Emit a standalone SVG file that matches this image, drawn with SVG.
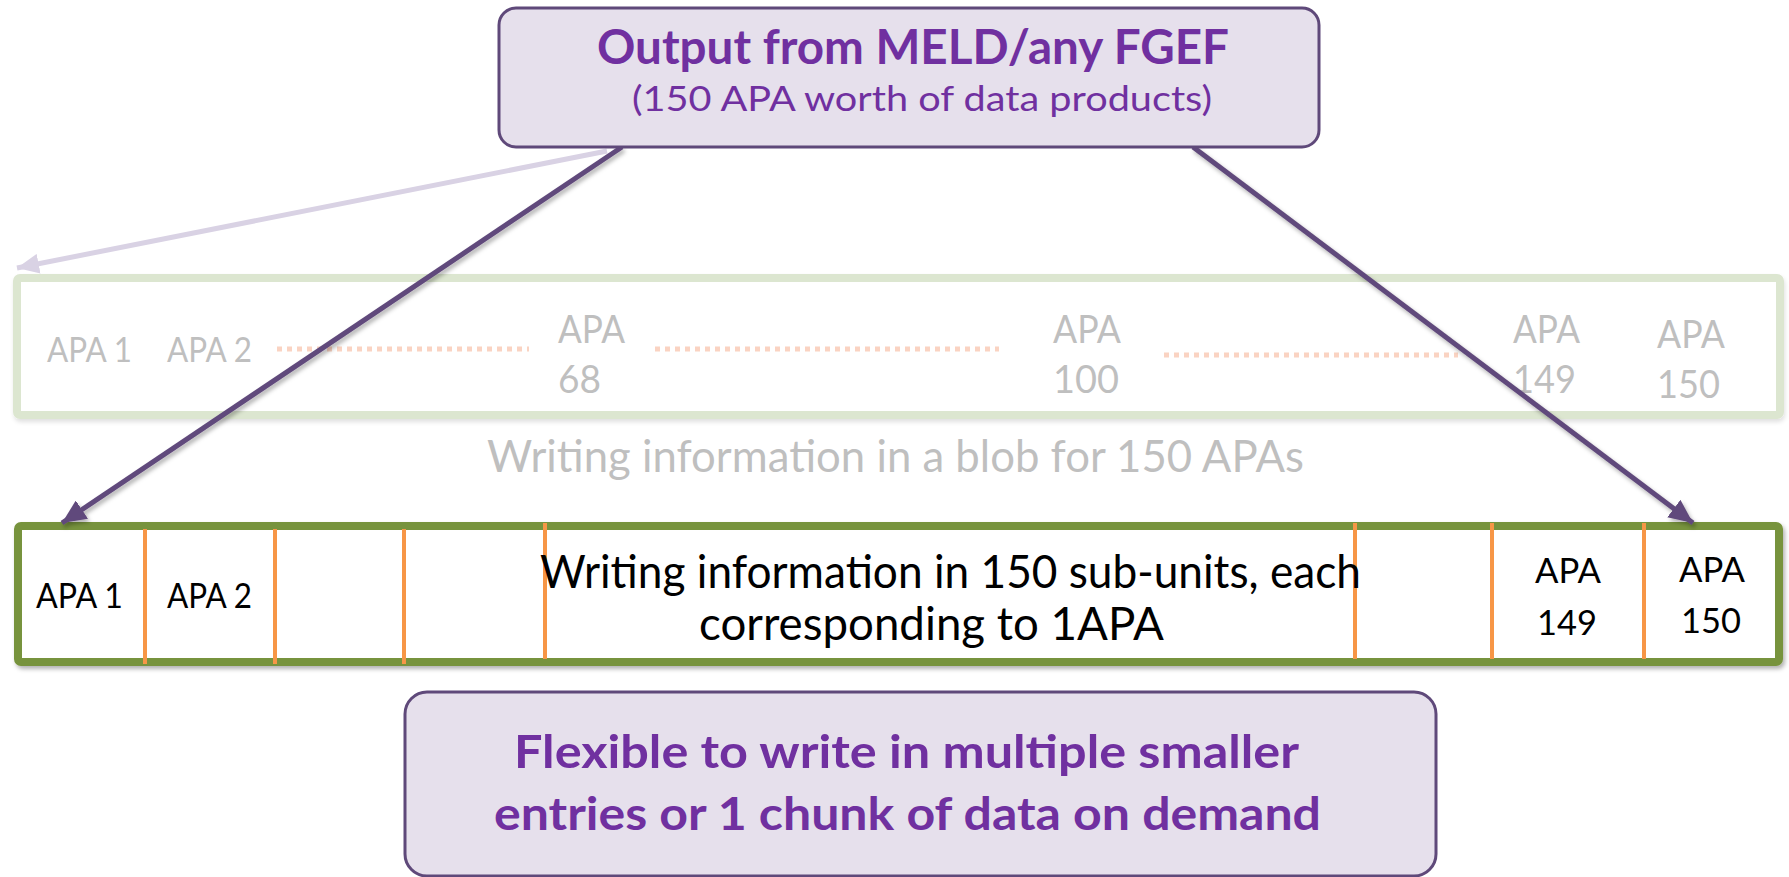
<svg xmlns="http://www.w3.org/2000/svg" width="1789" height="877" viewBox="0 0 1789 877">
  <style>
    .callout { fill: #e6e0ec; stroke: #5f497a; stroke-width: 3; }
    .ttl { font-family: Lato, "Open Sans", sans-serif; fill: #7030a0; }
    .faint { font-family: Lato, "Open Sans", sans-serif; fill: #bfbfbf; }
    .lbl { font-family: Lato, "Open Sans", sans-serif; fill: #000000; }
    .dots { stroke: #fad3c2; stroke-width: 5; stroke-dasharray: 5 5; fill: none; }
    .divider { stroke: #f79646; stroke-width: 4; }
    .link { stroke: #604a7b; stroke-width: 5; fill: none; }
  </style>
  <defs>
    <filter id="shadow" x="-5%" y="-5%" width="110%" height="120%">
      <feDropShadow dx="2" dy="3" stdDeviation="2" flood-color="#000" flood-opacity="0.3"/>
    </filter>
    <filter id="softShadow" x="-5%" y="-5%" width="110%" height="120%">
      <feDropShadow dx="1" dy="3" stdDeviation="2" flood-color="#000" flood-opacity="0.12"/>
    </filter>
    <marker id="arrowDark" markerUnits="userSpaceOnUse" markerWidth="26" markerHeight="22" refX="24" refY="11" orient="auto">
      <path d="M0,0 L24,11 L0,22 Z" fill="#604a7b"/>
    </marker>
    <marker id="arrowLight" markerUnits="userSpaceOnUse" markerWidth="24" markerHeight="20" refX="22" refY="10" orient="auto">
      <path d="M0,0 L22,10 L0,20 Z" fill="#d9d2e4"/>
    </marker>
  </defs>

  <rect width="1789" height="877" fill="#ffffff"/>

  <!-- faded single-blob layout -->
  <g id="blob-layout" filter="url(#softShadow)">
    <rect x="17" y="278" width="1763" height="137" rx="3" fill="#ffffff" stroke="#dce6d0" stroke-width="8"/>
  </g>
  <g id="blob-labels">
    <text class="faint" x="47" y="362" font-size="35" textLength="85" lengthAdjust="spacingAndGlyphs">APA 1</text>
    <text class="faint" x="167" y="362" font-size="35" textLength="85" lengthAdjust="spacingAndGlyphs">APA 2</text>
    <line class="dots" x1="277" y1="349" x2="529" y2="349"/>
    <text class="faint" x="558" y="343" font-size="39" textLength="67" lengthAdjust="spacingAndGlyphs">APA</text>
    <text class="faint" x="558" y="393" font-size="39" textLength="43" lengthAdjust="spacingAndGlyphs">68</text>
    <line class="dots" x1="655" y1="349" x2="999" y2="349"/>
    <text class="faint" x="1053" y="343" font-size="39" textLength="68" lengthAdjust="spacingAndGlyphs">APA</text>
    <text class="faint" x="1053" y="393" font-size="39" textLength="66" lengthAdjust="spacingAndGlyphs">100</text>
    <line class="dots" x1="1164" y1="355" x2="1458" y2="355"/>
    <text class="faint" x="1513" y="343" font-size="39" textLength="67" lengthAdjust="spacingAndGlyphs">APA</text>
    <text class="faint" x="1513" y="393" font-size="39" textLength="63" lengthAdjust="spacingAndGlyphs">149</text>
    <text class="faint" x="1657" y="348" font-size="39" textLength="68" lengthAdjust="spacingAndGlyphs">APA</text>
    <text class="faint" x="1657" y="398" font-size="39" textLength="63" lengthAdjust="spacingAndGlyphs">150</text>
  </g>
  <g id="blob-caption">
    <text class="faint" x="487" y="472" font-size="45" textLength="817" lengthAdjust="spacingAndGlyphs">Writing information in a blob for 150 APAs</text>
  </g>

  <!-- sub-unit layout -->
  <g id="subunit-layout">
    <rect x="18" y="526" width="1761" height="136" rx="3" fill="#ffffff" stroke="#77933c" stroke-width="8" filter="url(#shadow)"/>
    <line class="divider" x1="145" y1="529" x2="145" y2="664"/>
    <line class="divider" x1="275" y1="529" x2="275" y2="664"/>
    <line class="divider" x1="404" y1="529" x2="404" y2="664"/>
    <line class="divider" x1="545" y1="523" x2="545" y2="659"/>
    <line class="divider" x1="1355" y1="523" x2="1355" y2="659"/>
    <line class="divider" x1="1492" y1="523" x2="1492" y2="659"/>
    <line class="divider" x1="1644" y1="523" x2="1644" y2="659"/>
    <text class="lbl" x="36" y="608" font-size="34" textLength="87" lengthAdjust="spacingAndGlyphs">APA 1</text>
    <text class="lbl" x="167" y="608" font-size="34" textLength="85" lengthAdjust="spacingAndGlyphs">APA 2</text>
    <text class="lbl" x="540" y="588" font-size="47" textLength="821" lengthAdjust="spacingAndGlyphs">Writing information in 150 sub-units, each</text>
    <text class="lbl" x="699" y="640" font-size="47" textLength="465" lengthAdjust="spacingAndGlyphs">corresponding to 1APA</text>
    <text class="lbl" x="1535" y="583" font-size="34" textLength="66" lengthAdjust="spacingAndGlyphs">APA</text>
    <text class="lbl" x="1537" y="635" font-size="34" textLength="60" lengthAdjust="spacingAndGlyphs">149</text>
    <text class="lbl" x="1679" y="582" font-size="34" textLength="66" lengthAdjust="spacingAndGlyphs">APA</text>
    <text class="lbl" x="1681" y="633" font-size="34" textLength="60" lengthAdjust="spacingAndGlyphs">150</text>
  </g>

  <!-- connectors -->
  <g id="connectors">
    <line x1="607" y1="151" x2="17" y2="268" stroke="#d9d2e4" stroke-width="5" marker-end="url(#arrowLight)"/>
    <line class="link" x1="622" y1="147" x2="62" y2="523" marker-end="url(#arrowDark)" filter="url(#shadow)"/>
    <line class="link" x1="1193" y1="147" x2="1693" y2="523" marker-end="url(#arrowDark)" filter="url(#shadow)"/>
  </g>

  <!-- source callout -->
  <g id="source-output">
    <rect class="callout" x="499" y="8" width="820" height="139" rx="17"/>
    <text class="ttl" x="597" y="64" font-size="47" font-weight="bold" textLength="632" lengthAdjust="spacingAndGlyphs">Output from MELD/any FGEF</text>
    <text class="ttl" x="632" y="111" font-size="35" textLength="580" lengthAdjust="spacingAndGlyphs">(150 APA worth of data products)</text>
  </g>

  <!-- flexibility note -->
  <g id="flexibility-note">
    <rect class="callout" x="405" y="692" width="1031" height="184" rx="22"/>
    <text class="ttl" x="514" y="768" font-size="46" font-weight="bold" textLength="785" lengthAdjust="spacingAndGlyphs">Flexible to write in multiple smaller</text>
    <text class="ttl" x="494" y="830" font-size="46" font-weight="bold" textLength="827" lengthAdjust="spacingAndGlyphs">entries or 1 chunk of data on demand</text>
  </g>
</svg>
